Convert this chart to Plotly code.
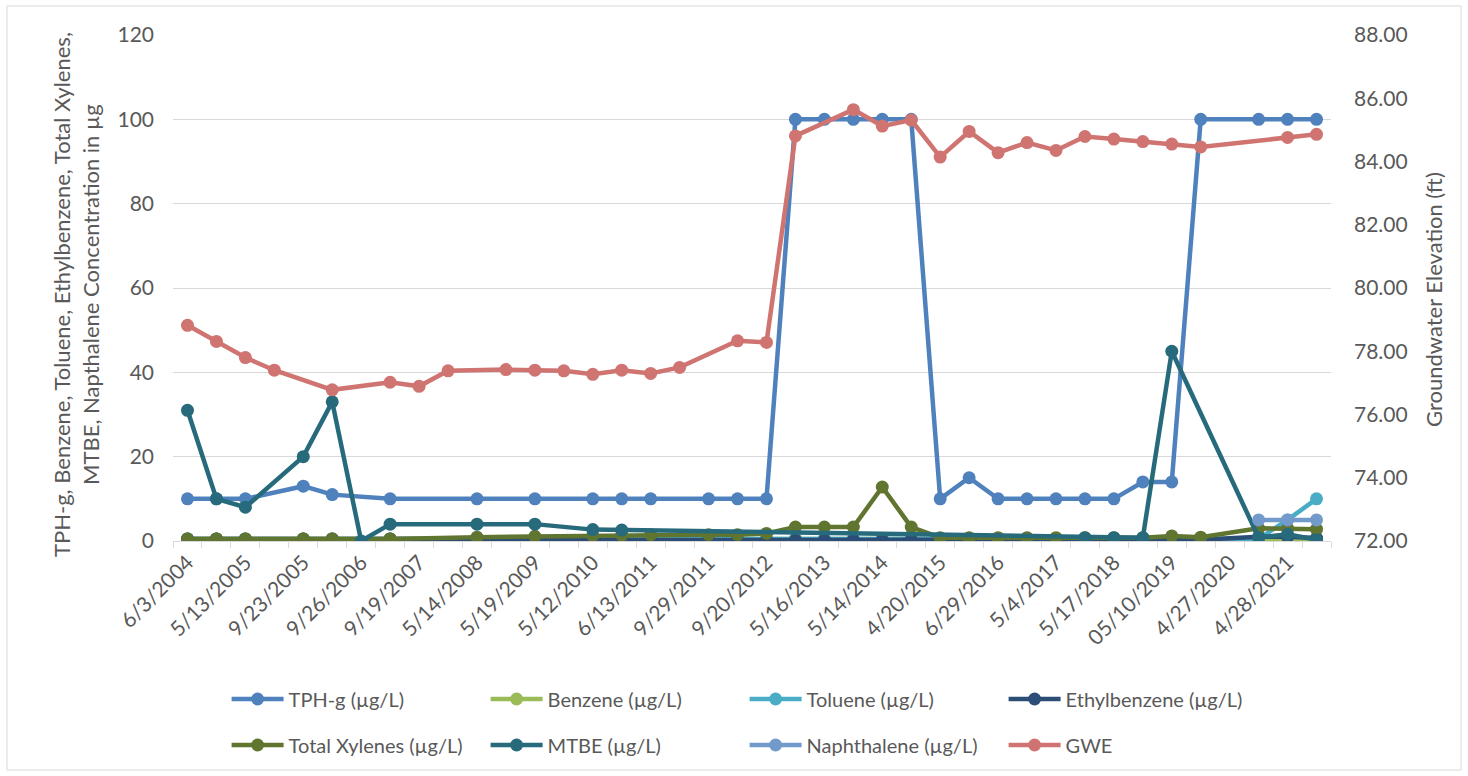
import plotly.graph_objects as go

# Sampling events (index 0..39); every second event is labelled on the axis
n_events = 40
tick_labels = ["6/3/2004", "5/13/2005", "9/23/2005", "9/26/2006", "9/19/2007",
               "5/14/2008", "5/19/2009", "5/12/2010", "6/13/2011", "9/29/2011",
               "9/20/2012", "5/16/2013", "5/14/2014", "4/20/2015", "6/29/2016",
               "5/4/2017", "5/17/2018", "05/10/2019", "4/27/2020", "4/28/2021"]

N = None
tph_g = [10, 10, 10, N, 13, 11, N, 10, N, N, 10, N, 10, N, 10, 10, 10, N, 10, 10,
         10, 100, 100, 100, 100, 100, 10, 15, 10, 10, 10, 10, 10, 14, 14, 100, N, 100, 100, 100]
benzene = [0.5, 0.5, 0.5, N, 0.5, 0.5, N, 0.5, N, N, 0.5, N, 0.5, N, 0.5, 0.5, 0.5, N, 0.5, 0.5,
           0.5, 0.5, 0.5, 0.5, 0.5, 0.5, 0.5, 0.5, 0.5, 0.5, 0.5, 0.5, 0.5, 0.5, 0.5, 0.5, N, 0.5, 0.5, 0.5]
toluene = [0.5, 0.5, 0.5, N, 0.5, 0.5, N, 0.5, N, N, 0.5, N, 0.5, N, 0.5, 0.5, 0.5, N, 0.5, 0.5,
           0.5, 0.5, 0.5, 0.5, 0.5, 0.5, 0.5, 0.5, 0.5, 0.5, 0.5, 0.5, 0.5, 0.5, 0.3, 0.3, N, 0.5, 5, 10]
ethylbenzene = [0.5, 0.5, 0.5, N, 0.5, 0.5, N, 0.5, N, N, 0.5, N, 0.2, N, 0.2, 0.2, 0.2, N, 0.2, 0.2,
                0.2, 0.2, 0.2, 0.2, 0.2, 0.2, 0.3, 0.3, 0.3, 0.3, 0.3, 0.3, 0.3, 0.3, 0.3, 0.3, N, 1.0, 1.0, 0.7]
total_xylenes = [0.5, 0.5, 0.5, N, 0.5, 0.5, N, 0.5, N, N, 0.9, N, 1.1, N, 1.3, 1.4, 1.5, N, 1.5, 1.5,
                 1.8, 3.3, 3.3, 3.3, 12.8, 3.3, 0.8, 0.8, 0.8, 0.8, 0.8, 0.8, 0.8, 0.8, 1.2, 0.9, N, 3.0, 3.0, 2.8]
mtbe = [31, 10, 8, N, 20, 33, 0, 4, N, N, 4, N, 4, N, 2.7, 2.6, N, N, N, N,
        N, N, N, N, N, N, N, N, N, N, N, 0.8, 0.8, 0.8, 45, N, N, 0.8, 1.6, 0.3]
naphthalene = [N] * 37 + [5, 5, 5]
gwe = [78.82, 78.31, 77.80, 77.40, N, 76.78, N, 77.02, 76.89, 77.38, N, 77.42, 77.40, 77.38, 77.27,
       77.40, 77.30, 77.49, N, 78.33, 78.28, 84.81, N, 85.64, 85.12, 85.31, 84.14, 84.95, 84.28,
       84.60, 84.35, 84.79, 84.71, 84.63, 84.55, 84.46, N, N, 84.76, 84.86]

series = [
    ("TPH-g (µg/L)", tph_g, "#4F81BD", "y", "legend"),
    ("Benzene (µg/L)", benzene, "#9BBB59", "y", "legend"),
    ("Toluene (µg/L)", toluene, "#4BACC6", "y", "legend"),
    ("Ethylbenzene (µg/L)", ethylbenzene, "#2C4D75", "y", "legend"),
    ("Total Xylenes (µg/L)", total_xylenes, "#5F7530", "y", "legend2"),
    ("MTBE (µg/L)", mtbe, "#276A7C", "y", "legend2"),
    ("Naphthalene (µg/L)", naphthalene, "#729ACA", "y", "legend2"),
    ("GWE", gwe, "#CF7471", "y2", "legend2"),
]

FONT = "Lato, Open Sans, sans-serif"
GREY = "#595959"
x = list(range(n_events))

fig = go.Figure()
for name, vals, color, yax, leg in series:
    fig.add_trace(go.Scatter(
        x=x, y=vals, name=name, mode="lines+markers", connectgaps=True,
        yaxis=yax, legend=leg,
        line=dict(color=color, width=4.5),
        marker=dict(color=color, size=13, line=dict(width=0)),
    ))

# pixel geometry of the plot area
L, R, T, B = 173, 137, 35, 235
W, H = 1468 - L - R, 776 - T - B


def px_x(p):
    return (p - L) / W


def px_y(p):
    return (776 - B - p) / H


legend_common = dict(
    orientation="h", xanchor="left", yanchor="middle",
    font=dict(family=FONT, size=20, color=GREY),
    itemwidth=52, entrywidth=192, bgcolor="rgba(0,0,0,0)",
    itemclick=False,
)

tick_font = dict(family=FONT, size=21, color=GREY)
title_font = dict(family=FONT, size=22, color=GREY)

fig.update_layout(
    width=1468, height=776,
    margin=dict(l=L, r=R, t=T, b=B),
    paper_bgcolor="white", plot_bgcolor="white",
    font=dict(family=FONT, size=20, color=GREY),
    xaxis=dict(
        range=[-0.5, n_events - 0.5],
        tickmode="array", tickvals=x[::2], ticktext=tick_labels,
        tickangle=-45, ticks="", showgrid=False, zeroline=False,
        showline=True, linecolor="#D9D9D9", linewidth=1,
        tickfont=tick_font,
        minor=dict(tickmode="linear", tick0=-0.5, dtick=1, ticks="outside",
                   ticklen=6, tickcolor="#D9D9D9", tickwidth=1, showgrid=False),
    ),
    yaxis=dict(
        range=[0, 120], dtick=20, showgrid=True, gridcolor="#D9D9D9", gridwidth=1,
        zeroline=False, showline=False, ticks="", ticklabelstandoff=18,
        tickfont=tick_font,
    ),
    yaxis2=dict(
        range=[72, 88], dtick=2, tickformat=".2f", overlaying="y", side="right",
        showgrid=False, zeroline=False, showline=False, ticks="", ticklabelstandoff=22,
        tickfont=tick_font,
    ),
    legend=dict(x=px_x(226.6), y=px_y(699), **legend_common),
    legend2=dict(x=px_x(226.6), y=px_y(745), **legend_common),
    showlegend=True,
    annotations=[
        dict(text="TPH-g, Benzene, Toluene, Ethylbenzene, Total Xylenes,<br>"
                  "MTBE, Napthalene Concentration in µg",
             xref="paper", yref="paper", x=px_x(76), y=px_y(295),
             xanchor="center", yanchor="middle", textangle=-90, showarrow=False,
             font=title_font),
        dict(text="Groundwater Elevation (ft)",
             xref="paper", yref="paper", x=px_x(1433), y=px_y(300),
             xanchor="center", yanchor="middle", textangle=-90, showarrow=False,
             font=title_font),
    ],
    shapes=[
        dict(type="rect", xref="paper", yref="paper",
             x0=px_x(7), x1=px_x(1461), y0=px_y(770), y1=px_y(6),
             line=dict(color="#D9D9D9", width=1), fillcolor="rgba(0,0,0,0)",
             layer="below"),
    ],
)

fig.write_html("out.html")
